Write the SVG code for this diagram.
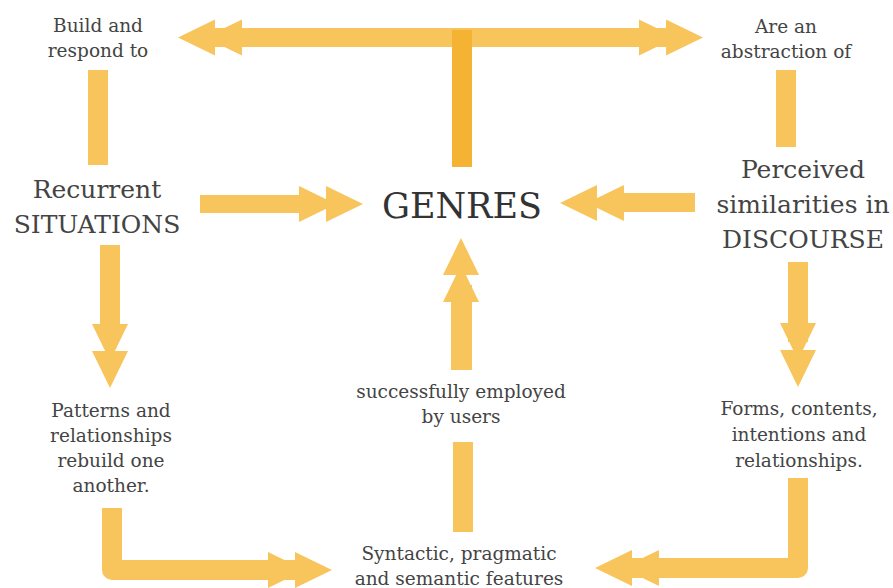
<svg xmlns="http://www.w3.org/2000/svg" xmlns:xlink="http://www.w3.org/1999/xlink" width="893" height="588" viewBox="0 0 893 588">
<style>
.bar{fill:#F8C45C}
.bar2{fill:#F5B334}
.head{fill:#F8C45C}
.elbow{fill:none;stroke:#F8C45C;stroke-width:20;stroke-linejoin:round;stroke-linecap:butt}
text{font-family:"DejaVu Serif","Liberation Serif",serif;fill:#444;text-anchor:middle}
.s{font-size:18.5px}
.m{font-size:25px}
.l{font-size:35px;fill:#333}
</style>
<defs>
<path id="dh" d="M0,0 L-37,-18 L-37,18 Z M-27,0 L-64,-18 L-64,18 Z"/>
</defs>
<rect width="893" height="588" fill="#fff"/>
<g id="connectors">
  <rect class="bar" x="200" y="28" width="480" height="19"/>
  <use href="#dh" class="head" transform="translate(178,37.5) rotate(180)"/>
  <use href="#dh" class="head" transform="translate(703,37.5)"/>
  <rect class="bar2" x="452" y="30" width="20" height="137"/>
  <rect class="bar" x="88" y="70" width="20" height="95"/>
  <rect class="bar" x="776" y="70" width="20" height="77"/>
  <rect class="bar" x="200" y="195" width="110" height="18"/>
  <use href="#dh" class="head" transform="translate(363,204)"/>
  <rect class="bar" x="610" y="193" width="85" height="19"/>
  <use href="#dh" class="head" transform="translate(560,203) rotate(180)"/>
  <rect class="bar" x="100" y="245" width="20" height="95"/>
  <use href="#dh" class="head" transform="translate(110,388) rotate(90)"/>
  <rect class="bar" x="788" y="262" width="20" height="80"/>
  <use href="#dh" class="head" transform="translate(798,387) rotate(90)"/>
  <rect class="bar" x="451" y="285" width="21" height="85"/>
  <use href="#dh" class="head" transform="translate(461,238) rotate(-90)"/>
  <rect class="bar" x="453" y="442" width="20" height="90"/>
  <path class="elbow" d="M112,508 V570 H300"/>
  <use href="#dh" class="head" transform="translate(332,570)"/>
  <path class="elbow" d="M798,478 V568 H625"/>
  <use href="#dh" class="head" transform="translate(595,568) rotate(180)"/>
</g>
<g id="n-build"><text class="s" x="98" y="32">Build and</text><text class="s" x="98" y="57">respond to</text></g>
<g id="n-abstraction"><text class="s" x="786" y="33">Are an</text><text class="s" x="786" y="58">abstraction of</text></g>
<g id="n-recurrent"><text class="m" x="97" y="198">Recurrent</text><text class="m" x="97" y="233">SITUATIONS</text></g>
<g id="n-genres"><text class="l" x="462" y="218">GENRES</text></g>
<g id="n-perceived"><text class="m" x="803" y="178">Perceived</text><text class="m" x="803" y="213">similarities in</text><text class="m" x="803" y="248">DISCOURSE</text></g>
<g id="n-patterns"><text class="s" x="111" y="417">Patterns and</text><text class="s" x="111" y="442">relationships</text><text class="s" x="111" y="467">rebuild one</text><text class="s" x="111" y="492">another.</text></g>
<g id="n-employed"><text class="s" x="461" y="398">successfully employed</text><text class="s" x="461" y="423">by users</text></g>
<g id="n-forms"><text class="s" x="799" y="415">Forms, contents,</text><text class="s" x="799" y="441">intentions and</text><text class="s" x="799" y="467">relationships.</text></g>
<g id="n-features"><text class="s" x="459" y="560">Syntactic, pragmatic</text><text class="s" x="459" y="585">and semantic features</text></g>
</svg>
